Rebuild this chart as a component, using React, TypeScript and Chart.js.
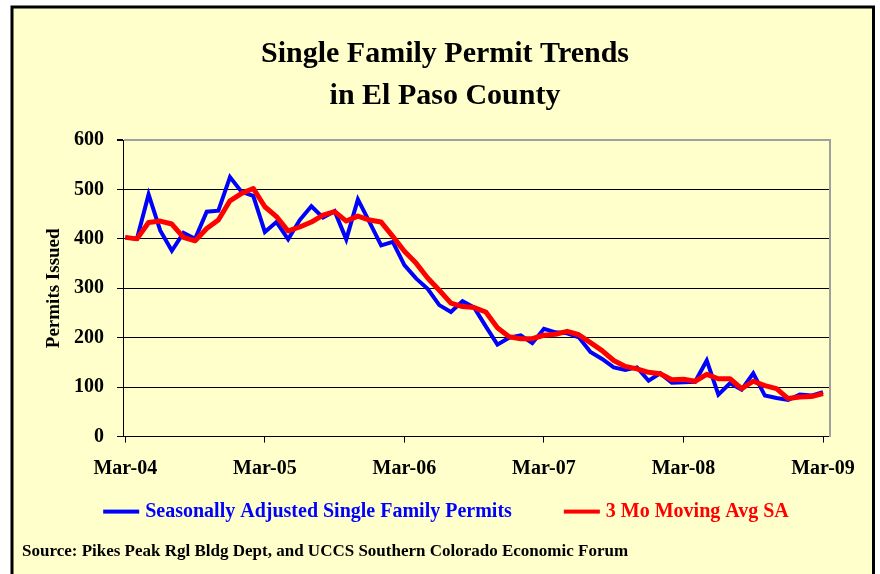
import React, { useEffect, useRef } from "react";
import { Chart, registerables } from "chart.js";

Chart.register(...registerables);

const months = [
  "Mar-04","Apr-04","May-04","Jun-04","Jul-04","Aug-04","Sep-04","Oct-04","Nov-04","Dec-04","Jan-05","Feb-05",
  "Mar-05","Apr-05","May-05","Jun-05","Jul-05","Aug-05","Sep-05","Oct-05","Nov-05","Dec-05","Jan-06","Feb-06",
  "Mar-06","Apr-06","May-06","Jun-06","Jul-06","Aug-06","Sep-06","Oct-06","Nov-06","Dec-06","Jan-07","Feb-07",
  "Mar-07","Apr-07","May-07","Jun-07","Jul-07","Aug-07","Sep-07","Oct-07","Nov-07","Dec-07","Jan-08","Feb-08",
  "Mar-08","Apr-08","May-08","Jun-08","Jul-08","Aug-08","Sep-08","Oct-08","Nov-08","Dec-08","Jan-09","Feb-09",
  "Mar-09",
];

const tickLabels = ["Mar-04", "Mar-05", "Mar-06", "Mar-07", "Mar-08", "Mar-09"];

const seasonallyAdjusted = [
  403, 400, 490, 417, 376, 412, 400, 455, 457, 525, 495, 487,
  414, 434, 399, 438, 466, 443, 456, 399, 480, 434, 387, 394,
  347, 320, 299, 266, 252, 274, 261, 223, 186, 200, 205, 189,
  218, 211, 209, 201, 171, 157, 140, 135, 140, 113, 128, 109,
  110, 111, 154, 85, 108, 95, 128, 83, 78, 74, 85, 83,
  90,
];

const movingAvg = [
  403, 400, 433, 436, 430, 403, 396, 421, 438, 477, 492, 502,
  465, 445, 416, 424, 434, 448, 455, 436, 446, 438, 434, 405,
  375, 351, 321, 296, 270, 263, 261, 252, 220, 202, 198, 198,
  205, 207, 213, 206, 190, 174, 154, 142, 137, 130, 127, 115,
  116, 112, 126, 117, 117, 97, 112, 103, 97, 77, 80, 81,
  87,
];

const seriesNames = ["Seasonally Adjusted Single Family Permits", "3 Mo Moving Avg SA"];
const seriesColors = ["#0000FF", "#FF0000"];
const titleLines = ["Single Family Permit Trends", "in El Paso County"];
const yAxisTitle = "Permits Issued";
const sourceText = "Source: Pikes Peak Rgl Bldg Dept, and UCCS Southern Colorado Economic Forum";

const FONT = "'Liberation Serif', 'Times New Roman', serif";

const framePlugin = {
  id: "frame",
  beforeDraw(chart: any) {
    const { ctx, width, height } = chart;
    ctx.save();
    ctx.fillStyle = "#FFFFFF";
    ctx.fillRect(0, 0, width, height);
    ctx.fillStyle = "#FFFFCC";
    ctx.fillRect(12, 7, 862, height);
    ctx.strokeStyle = "#000000";
    ctx.lineWidth = 3;
    ctx.beginPath();
    ctx.moveTo(12, height + 5);
    ctx.lineTo(12, 7);
    ctx.lineTo(873.5, 7);
    ctx.lineTo(873.5, height + 5);
    ctx.stroke();
    ctx.restore();
  },
};

const LEGEND_CENTER_X = 446;
const LEGEND_OFFSET_Y = 31;
const SAMPLE_W = 36;
const TEXT_GAP = 6;
const ITEM_GAP = 52;

const legendPlugin = {
  id: "customLegend",
  afterDraw(chart: any) {
    const { ctx } = chart;
    const ds = chart.data.datasets;
    const order = [0, 1];
    ctx.save();
    ctx.font = `bold 20px ${FONT}`;
    const widths = order.map((i) => ctx.measureText(ds[i].label).width);
    const total =
      order.length * (SAMPLE_W + TEXT_GAP) +
      widths.reduce((a: number, b: number) => a + b, 0) +
      ITEM_GAP * (order.length - 1);
    let x = LEGEND_CENTER_X - total / 2;
    const y = chart.scales.x.bottom + LEGEND_OFFSET_Y;
    order.forEach((idx, k) => {
      const color = ds[idx].borderColor;
      ctx.fillStyle = color;
      ctx.fillRect(x, y - 2, SAMPLE_W, 4);
      x += SAMPLE_W + TEXT_GAP;
      ctx.textBaseline = "middle";
      ctx.textAlign = "left";
      ctx.fillText(ds[idx].label, x, y);
      x += widths[k] + ITEM_GAP;
    });
    ctx.restore();
  },
};

export default function App() {
  const canvasRef = useRef<HTMLCanvasElement | null>(null);

  useEffect(() => {
    if (!canvasRef.current) return;
    const tickIdx = tickLabels.map((l) => months.indexOf(l));
    const chart = new Chart(canvasRef.current, {
      type: "line",
      data: {
        datasets: [
          {
            label: seriesNames[0],
            data: seasonallyAdjusted.map((v, i) => ({ x: i, y: v })),
            borderColor: seriesColors[0],
            backgroundColor: seriesColors[0],
            borderWidth: 4,
            pointRadius: 0,
            tension: 0,
            order: 1,
          },
          {
            label: seriesNames[1],
            data: movingAvg.map((v, i) => ({ x: i, y: v })),
            borderColor: seriesColors[1],
            backgroundColor: seriesColors[1],
            borderWidth: 5,
            pointRadius: 0,
            tension: 0,
            borderJoinStyle: "round",
            order: 0,
          },
        ],
      },
      options: {
        animation: false,
        responsive: false,
        devicePixelRatio: 1,
        layout: { padding: { top: 10, left: 22, right: 12, bottom: 10 } },
        scales: {
          x: {
            type: "linear",
            min: -0.2,
            max: 60.6,
            afterBuildTicks: (scale: any) => {
              scale.ticks = tickIdx.map((v) => ({ value: v }));
            },
            afterFit: (scale: any) => {
              scale.height = 44;
            },
            ticks: {
              callback: (value: any) => months[Math.round(Number(value))] || "",
              font: { family: FONT, size: 20, weight: "bold" },
              color: "#000",
              padding: 14,
              maxRotation: 0,
              autoSkip: false,
            },
            grid: { drawOnChartArea: false, drawTicks: true, tickLength: 6, tickColor: "#000" },
            border: { color: "#000", width: 1 },
          },
          y: {
            min: 0,
            max: 600,
            afterFit: (scale: any) => {
              scale.width = 101;
            },
            ticks: {
              stepSize: 100,
              font: { family: FONT, size: 20, weight: "bold" },
              color: "#000",
              padding: 13,
            },
            grid: {
              color: (c: any) => (c.tick && c.tick.value === 600 ? "#A0A0A0" : "#000"),
              lineWidth: (c: any) => (c.tick && c.tick.value === 600 ? 2 : 1),
              tickLength: 6,
              tickColor: "#000",
            },
            border: { color: "#000", width: 1 },
            title: {
              display: true,
              text: yAxisTitle,
              font: { family: FONT, size: 19, weight: "bold" },
              color: "#000",
              padding: { top: 21, bottom: 0 },
            },
          },
          y2: {
            type: "linear",
            position: "right",
            display: true,
            afterFit: (scale: any) => {
              scale.width = 38;
            },
            ticks: { display: false },
            grid: { display: false, drawTicks: false },
            border: { display: true, color: "#A0A0A0", width: 2 },
          },
        },
        plugins: {
          title: {
            display: true,
            text: titleLines,
            font: { family: FONT, size: 30, weight: "bold", lineHeight: 1.4 },
            color: "#000",
            padding: { top: 23, bottom: 23 },
          },
          subtitle: {
            display: true,
            text: sourceText,
            position: "bottom",
            align: "start",
            font: { family: FONT, size: 17, weight: "bold" },
            color: "#000",
            padding: { top: 61, bottom: 2 },
          },
          legend: { display: false },
          tooltip: { enabled: false },
        },
      },
      plugins: [framePlugin, legendPlugin],
    } as any);
    return () => chart.destroy();
  }, []);

  return (
    <div style={{ width: 880, height: 574, position: "relative" }}>
      <style>{`body{margin:0;}`}</style>
      <canvas ref={canvasRef} width={880} height={574} style={{ display: "block" }} />
    </div>
  );
}
